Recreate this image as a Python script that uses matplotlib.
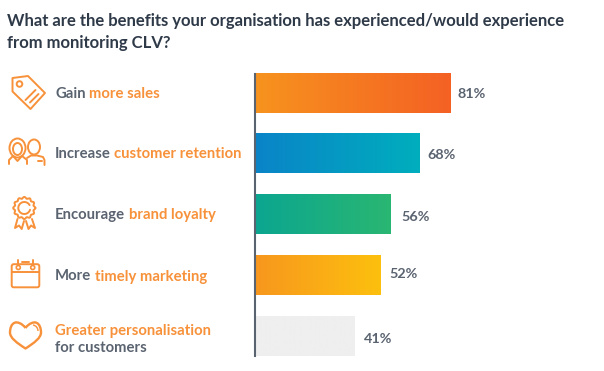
import numpy as np
import matplotlib
matplotlib.use('Agg')
import matplotlib.pyplot as plt
from matplotlib.colors import LinearSegmentedColormap
from matplotlib.patches import Circle, Ellipse, FancyBboxPatch, PathPatch, Polygon
from matplotlib.path import Path

# Data
title_lines = ['What are the benefits your organisation has experienced/would experience',
               'from monitoring CLV?']
categories = ['Gain more sales', 'Increase customer retention', 'Encourage brand loyalty',
              'More timely marketing', 'Greater personalisation for customers']
values = [81, 68, 56, 52, 41]
value_labels = ['81%', '68%', '56%', '52%', '41%']
bar_colors = [('#f7931e', '#f46124'), ('#0a84c8', '#00aebd'), ('#0ba690', '#2ab672'),
              ('#f7971e', '#fdc00e'), ('#efefef', '#efefef')]

ORANGE = '#f7913a'
GREY = '#5a6370'
DARK = '#2f3a49'
FONT = 'Lato'
LABEL_SIZE = 10.7

W, H = 604, 371
fig = plt.figure(figsize=(W / 100, H / 100), dpi=100)

# Bars, one unit on x is 2.415 px, rows are 60.75 px apart
ax = fig.add_axes([254.8 / W, 1 - 366.6 / H, (W - 254.8) / W, 303.8 / H])
bars = ax.barh(range(5), values, height=0.642, color='none')
for bar, (c0, c1) in zip(bars, bar_colors):
    cmap = LinearSegmentedColormap.from_list('bar', [c0, c1])
    grad = np.linspace(0, 1, 256).reshape(1, -1)
    ax.imshow(grad, extent=[0, bar.get_width(), bar.get_y() + bar.get_height(), bar.get_y()],
              cmap=cmap, aspect='auto', zorder=2)
ax.set_xlim(0, (W - 254.8) / 2.415)
ax.set_ylim(4.5, -0.5)
ax.set_xticks([])
ax.set_yticks([])
for side in ['top', 'right', 'bottom']:
    ax.spines[side].set_visible(False)
ax.spines['left'].set_bounds(-0.32, 4.32)
ax.spines['left'].set_color(GREY)
ax.spines['left'].set_linewidth(1.5)
ax.patch.set_alpha(0)

# small nudges so the value labels sit where they do in the original
pad_x = [7, 8, 11, 9, 10]
pad_y = [-1, -1, -2.5, 1.5, -2.5]
for i, v in enumerate(values):
    ax.annotate(value_labels[i], (v, i), xytext=(pad_x[i] * 0.72, pad_y[i] * 0.72),
                textcoords='offset points', va='center', ha='left',
                fontsize=10.4, fontweight='bold', color=GREY, family=FONT)

# Overlay in pixel coordinates for text and icons
ov = fig.add_axes([0, 0, 1, 1], zorder=3)
ov.set_xlim(0, W)
ov.set_ylim(H, 0)
ov.axis('off')

ov.text(7, 21, title_lines[0], fontsize=11.95, fontweight='bold', color=DARK, family=FONT, va='center')
ov.text(7, 43, title_lines[1], fontsize=11.95, fontweight='bold', color=DARK, family=FONT, va='center')


def two_tone(x, y, first, second, c1=GREY, c2=ORANGE):
    t = ov.text(x, y, first, fontsize=LABEL_SIZE, fontweight='bold', color=c1, family=FONT, va='center')
    fig.canvas.draw()
    box = t.get_window_extent()
    ov.text(box.x1 + 3.5, y, second, fontsize=LABEL_SIZE, fontweight='bold', color=c2, family=FONT, va='center')


two_tone(55, 93.5, 'Gain', 'more sales')
two_tone(55, 154.5, 'Increase', 'customer retention')
two_tone(55, 215.5, 'Encourage', 'brand loyalty')
two_tone(55, 276.5, 'More', 'timely marketing')
ov.text(55, 331, 'Greater personalisation', fontsize=LABEL_SIZE, fontweight='bold', color=ORANGE, family=FONT, va='center')
ov.text(55, 347.5, 'for customers', fontsize=LABEL_SIZE, fontweight='bold', color=GREY, family=FONT, va='center')

icon = dict(fill=False, edgecolor=ORANGE, linewidth=1.4, joinstyle='round')
line = dict(color=ORANGE, linewidth=1.4, solid_capstyle='round')

# tag
ov.add_patch(Polygon([(12.5, 78), (28, 76), (45, 93), (30.5, 109), (12.5, 91.5)], closed=True, **icon))
ov.add_patch(Circle((19.5, 84), 2.8, **icon))
ov.plot([25.5, 35.5], [100, 90], **line)
ov.plot([30, 38.5], [102.5, 94], **line)

# people
ov.add_patch(Ellipse((17.5, 148), 16, 19, **icon))
ov.add_patch(Ellipse((17.5, 149), 9, 12, **icon))
ov.plot([9, 9, 13, 17.5, 22, 27, 27], [164, 160, 156, 161, 156, 160, 164], **line)
ov.add_patch(Ellipse((34, 147), 12, 15, **icon))
ov.plot([27, 31, 37, 43, 44.5, 44.5], [158, 155.5, 155.5, 157, 160, 165], **line)
ov.plot([38, 42], [161, 161], **line)

# rosette
theta = np.linspace(0, 2 * np.pi, 240)
radius = 10.3 + 0.8 * np.cos(12 * theta)
ov.plot(24.3 + radius * np.cos(theta), 208 + radius * np.sin(theta), **line)
arc = np.linspace(0.3, 2 * np.pi - 0.5, 60)
ov.plot(24.3 + 6 * np.cos(arc), 208 + 6 * np.sin(arc), **line)
ov.plot([17.5, 15, 19, 21.7, 24], [219, 228, 225.5, 229, 221], **line)
ov.plot([26, 28.5, 31, 35, 32], [221, 229, 225.5, 228, 219], **line)

# calendar
ov.add_patch(FancyBboxPatch((13, 265.5), 25, 20.5, boxstyle='round,pad=1.3,rounding_size=2', **icon))
ov.plot([11.7, 39.3], [272, 272], **line)
for cx in [18.3, 32.7]:
    ov.add_patch(Circle((cx, 267.5), 2, facecolor='white', edgecolor=ORANGE, linewidth=1.2, zorder=3))
    ov.plot([cx, cx], [260, 265.5], **line)
ov.plot([21.7, 29.3], [261.7, 261.7], **line)

# heart
heart = Path([(25.5, 328), (22, 323), (17, 322), (15.5, 322.5), (11, 323.5), (10, 329), (10, 332.5),
              (10, 338), (17, 343), (25.5, 348.5), (34, 343), (41, 338), (41, 332.5),
              (41, 329), (40, 323.5), (35.5, 322.5), (34, 322), (29, 323), (25.5, 328)],
             [Path.MOVETO] + [Path.CURVE4] * 18)
ov.add_patch(PathPatch(heart, fill=False, edgecolor=ORANGE, linewidth=1.7, joinstyle='round'))
ov.add_patch(PathPatch(Path([(33, 325), (36, 325.5), (38, 328), (38, 331)],
                            [Path.MOVETO] + [Path.CURVE4] * 3), fill=False, edgecolor=ORANGE, linewidth=1))

plt.savefig('out.png', dpi=100)
